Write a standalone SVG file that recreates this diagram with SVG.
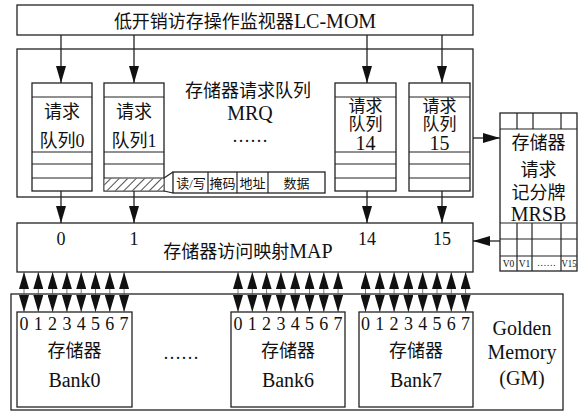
<svg xmlns="http://www.w3.org/2000/svg" width="587" height="411" viewBox="0 0 587 411">
<style>
.bx{fill:#fff;stroke:#222;stroke-width:1.3}
.ln{stroke:#222;stroke-width:1.2;fill:none}
.ar{stroke:#222;stroke-width:1.3;fill:none}
.thin{stroke:#555;stroke-width:0.8;fill:none}
.cj{font-family:"Liberation Serif","Noto Sans CJK SC",serif;font-size:18px;fill:#111;text-anchor:middle}
.qt{font-family:"Liberation Serif","Noto Sans CJK SC",serif;font-size:17px;fill:#111;text-anchor:middle}
.lt{font-family:"Liberation Serif","Noto Sans CJK SC",serif;font-size:20px;fill:#111;text-anchor:middle}
.sm{font-family:"Liberation Serif","Noto Sans CJK SC",serif;font-size:13px;fill:#111;text-anchor:middle}
.xs{font-family:"Liberation Serif",serif;font-size:9.5px;fill:#111;text-anchor:middle}
</style>
<defs>
<marker id="ah" markerUnits="userSpaceOnUse" markerWidth="17" markerHeight="10" refX="17" refY="5" orient="auto-start-reverse">
<path d="M0,0 L17,5 L0,10 z" fill="#111"/>
</marker>
<pattern id="hatch" patternUnits="userSpaceOnUse" width="6" height="6" patternTransform="rotate(45)">
<rect width="6" height="6" fill="#fff"/>
<line x1="0" y1="0" x2="0" y2="6" stroke="#222" stroke-width="1.6"/>
</pattern>
</defs>

<g id="lcmom">
<rect class="bx" x="17" y="5" width="456" height="30"/>
<text class="cj" x="245" y="28">低开销访存操作监视器<tspan font-size="20">LC-MOM</tspan></text>
</g>

<g id="mrq">
<rect class="bx" x="17" y="49" width="456" height="148"/>
<text class="cj" x="248" y="97">存储器请求队列</text>
<text class="lt" x="250" y="120">MRQ</text>
<text class="cj" x="250" y="142" font-size="17">……</text>
</g>

<g id="queue0">
<rect class="bx" x="32" y="83" width="60" height="108"/>
<path class="ln" d="M32,97H92M32,152H92M32,164H92M32,178H92"/>
<text class="cj" x="62" y="118">请求</text>
<text class="cj" x="62" y="147">队列0</text>
</g>

<g id="queue1">
<rect class="bx" x="104" y="83" width="60" height="108"/>
<rect x="104.6" y="178.6" width="58.8" height="11.8" fill="url(#hatch)"/>
<path class="ln" d="M104,97H164M104,152H164M104,164H164M104,178H164"/>
<text class="cj" x="134" y="118">请求</text>
<text class="cj" x="134" y="147">队列1</text>
</g>

<g id="fields">
<path class="ln" d="M164,178L173,172M164,191L173,193"/>
<rect class="bx" x="173" y="172" width="152" height="21"/>
<path class="ln" d="M208,172V193M237,172V193M268,172V193"/>
<text class="sm" x="191" y="188">读/写</text>
<text class="sm" x="222.5" y="188">掩码</text>
<text class="sm" x="252.5" y="188">地址</text>
<text class="sm" x="296.5" y="188">数据</text>
</g>

<g id="queue14">
<rect class="bx" x="335" y="83" width="61" height="108"/>
<path class="ln" d="M335,97H396M335,152H396M335,164H396M335,178H396"/>
<text class="qt" x="365.5" y="112">请求</text>
<text class="qt" x="365.5" y="130">队列</text>
<text class="lt" x="365.5" y="150">14</text>
</g>

<g id="queue15">
<rect class="bx" x="409" y="83" width="61" height="108"/>
<path class="ln" d="M409,97H470M409,152H470M409,164H470M409,178H470"/>
<text class="qt" x="439.5" y="112">请求</text>
<text class="qt" x="439.5" y="130">队列</text>
<text class="lt" x="439.5" y="150">15</text>
</g>

<g id="mrsb">
<rect class="bx" x="500" y="113" width="77" height="158"/>
<path class="ln" d="M500,129H577M517,113V129M533,113V129M561,113V129"/>
<path class="ln" d="M500,223H577M500,239H577M500,256H577M517,223V271M532,223V271M561,223V271"/>
<text class="cj" x="538.5" y="149">存储器</text>
<text class="cj" x="538.5" y="176">请求</text>
<text class="cj" x="538.5" y="199">记分牌</text>
<text class="lt" x="538.5" y="221">MRSB</text>
<text class="xs" x="508.5" y="267">V0</text>
<text class="xs" x="524.5" y="267">V1</text>
<text class="xs" x="546.5" y="266">……</text>
<text class="xs" x="569" y="267" textLength="15" lengthAdjust="spacingAndGlyphs">V15</text>
</g>

<g id="map">
<rect class="bx" x="17" y="223" width="456" height="49"/>
<text class="cj" x="61" y="245">0</text>
<text class="cj" x="134" y="245">1</text>
<text class="cj" x="367" y="245">14</text>
<text class="cj" x="442" y="245">15</text>
<text class="cj" x="248" y="258">存储器访问映射<tspan font-size="20">MAP</tspan></text>
</g>

<g id="gm">
<rect class="bx" x="11" y="294" width="552" height="116"/>
<text class="lt" x="522" y="335">Golden</text>
<text class="lt" x="522" y="359">Memory</text>
<text class="lt" x="522" y="385">(GM)</text>
<text class="cj" x="181" y="359">……</text>
</g>

<g id="bank0">
<rect class="bx" x="17" y="312" width="115" height="95"/>
<g class="cj"><text x="24" y="330">0</text><text x="38.3" y="330">1</text><text x="52.6" y="330">2</text><text x="66.9" y="330">3</text><text x="81.2" y="330">4</text><text x="95.5" y="330">5</text><text x="109.8" y="330">6</text><text x="124.1" y="330">7</text></g>
<text class="cj" x="74.5" y="357">存储器</text>
<text class="lt" x="74.5" y="387">Bank0</text>
</g>

<g id="bank6">
<rect class="bx" x="231" y="312" width="114" height="95"/>
<g class="cj"><text x="238" y="330">0</text><text x="252.3" y="330">1</text><text x="266.6" y="330">2</text><text x="280.9" y="330">3</text><text x="295.2" y="330">4</text><text x="309.5" y="330">5</text><text x="323.8" y="330">6</text><text x="338.1" y="330">7</text></g>
<text class="cj" x="288" y="357">存储器</text>
<text class="lt" x="288" y="387">Bank6</text>
</g>

<g id="bank7">
<rect class="bx" x="359" y="312" width="114" height="95"/>
<g class="cj"><text x="365.5" y="330">0</text><text x="379.8" y="330">1</text><text x="394.1" y="330">2</text><text x="408.4" y="330">3</text><text x="422.7" y="330">4</text><text x="437" y="330">5</text><text x="451.3" y="330">6</text><text x="465.6" y="330">7</text></g>
<text class="cj" x="416" y="357">存储器</text>
<text class="lt" x="416" y="387">Bank7</text>
</g>

<g id="connectors">
<g class="ar" marker-end="url(#ah)">
<line x1="61" y1="35" x2="61" y2="83"/>
<line x1="134" y1="35" x2="134" y2="83"/>
<line x1="367" y1="35" x2="367" y2="83"/>
<line x1="442" y1="35" x2="442" y2="83"/>
<line x1="61" y1="191" x2="61" y2="223"/>
<line x1="134" y1="191" x2="134" y2="223"/>
<line x1="367" y1="191" x2="367" y2="223"/>
<line x1="442" y1="191" x2="442" y2="223"/>
<line x1="473" y1="138" x2="500" y2="138"/>
<line x1="500" y1="241" x2="473" y2="241"/>
</g>
<g class="thin" marker-start="url(#ah)" marker-end="url(#ah)">
<line x1="24" y1="272" x2="24" y2="312"/><line x1="38.3" y1="272" x2="38.3" y2="312"/><line x1="52.6" y1="272" x2="52.6" y2="312"/><line x1="66.9" y1="272" x2="66.9" y2="312"/><line x1="81.2" y1="272" x2="81.2" y2="312"/><line x1="95.5" y1="272" x2="95.5" y2="312"/><line x1="109.8" y1="272" x2="109.8" y2="312"/><line x1="124.1" y1="272" x2="124.1" y2="312"/>
<line x1="238" y1="272" x2="238" y2="312"/><line x1="252.3" y1="272" x2="252.3" y2="312"/><line x1="266.6" y1="272" x2="266.6" y2="312"/><line x1="280.9" y1="272" x2="280.9" y2="312"/><line x1="295.2" y1="272" x2="295.2" y2="312"/><line x1="309.5" y1="272" x2="309.5" y2="312"/><line x1="323.8" y1="272" x2="323.8" y2="312"/><line x1="338.1" y1="272" x2="338.1" y2="312"/>
<line x1="365.5" y1="272" x2="365.5" y2="312"/><line x1="379.8" y1="272" x2="379.8" y2="312"/><line x1="394.1" y1="272" x2="394.1" y2="312"/><line x1="408.4" y1="272" x2="408.4" y2="312"/><line x1="422.7" y1="272" x2="422.7" y2="312"/><line x1="437" y1="272" x2="437" y2="312"/><line x1="451.3" y1="272" x2="451.3" y2="312"/><line x1="465.6" y1="272" x2="465.6" y2="312"/>
</g>
</g>
</svg>
